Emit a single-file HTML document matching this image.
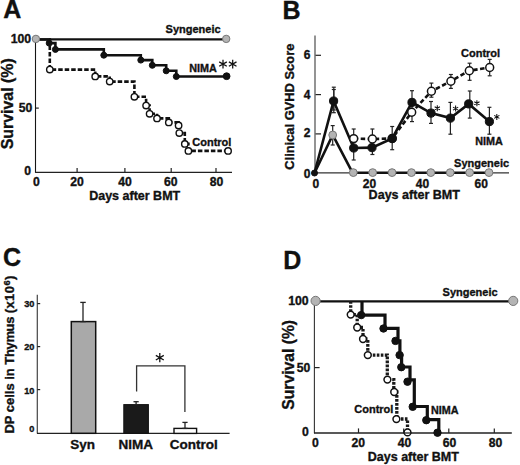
<!DOCTYPE html>
<html><head><meta charset="utf-8"><style>
html,body{margin:0;padding:0;background:#fff;width:520px;height:465px;overflow:hidden;}
svg{display:block;}
text{font-family:"Liberation Sans",sans-serif;font-weight:bold;fill:#111;stroke:#111;stroke-width:0.35px;}
</style></head><body>
<svg width="520" height="465" viewBox="0 0 520 465">
<rect width="520" height="465" fill="#fff"/>
<text x="3.3" y="17.6" font-size="25" text-anchor="start" >A</text>
<line x1="35.5" y1="36" x2="35.5" y2="172.8" stroke="#151515" stroke-width="1.1" />
<line x1="35.2" y1="172.4" x2="232" y2="172.4" stroke="#222" stroke-width="1.3" />
<line x1="77.1" y1="168" x2="77.1" y2="172" stroke="#222" stroke-width="1.2" />
<line x1="124.9" y1="168" x2="124.9" y2="172" stroke="#222" stroke-width="1.2" />
<line x1="171.2" y1="168" x2="171.2" y2="172" stroke="#222" stroke-width="1.2" />
<line x1="216.0" y1="168" x2="216.0" y2="172" stroke="#222" stroke-width="1.2" />
<line x1="35.7" y1="108.1" x2="38.8" y2="108.1" stroke="#222" stroke-width="1.2" />
<text x="31.2" y="43.4" font-size="12.3" text-anchor="end" >100</text>
<text x="32.2" y="111.9" font-size="12.2" text-anchor="end" >50</text>
<text x="31.1" y="175.4" font-size="12.2" text-anchor="end" >0</text>
<text x="36.3" y="185.7" font-size="12.2" text-anchor="middle" >0</text>
<text x="77.1" y="185.7" font-size="12.2" text-anchor="middle" >20</text>
<text x="125" y="185.7" font-size="12.2" text-anchor="middle" >40</text>
<text x="170.8" y="185.7" font-size="12.2" text-anchor="middle" >60</text>
<text x="216.6" y="185.7" font-size="12.2" text-anchor="middle" >80</text>
<text x="89.2" y="199.7" font-size="12.5" text-anchor="start" >Days after BMT</text>
<text transform="translate(12.6,103.8) rotate(-90)" x="0" y="0" font-size="15.9" text-anchor="middle">Survival (%)</text>
<line x1="36" y1="39.3" x2="226.2" y2="39.3" stroke="#111" stroke-width="2.2" />
<path d="M49.3,39.5H49.8V69.6H95.2V76.4H109.7V81.6H134.4V96.8H146.1V105.6H149.6V113.8H157V118.4H168.8V122.4H178.6V125.4H179.3V133.1H184.8V143.9H188.4V150.9H228.1V150.9" fill="none" stroke="#111" stroke-width="2.6" stroke-dasharray="4.5 2"/>
<path d="M36,39.5H49.2V43.1H55.4V49.4H103.8V55.2H140.8V60.1H152.3V65.3H166.2V70.8H176.3V76.5H226.6V76.5" fill="none" stroke="#111" stroke-width="2.6"/>
<circle cx="49.2" cy="43.1" r="3.0" fill="#111" stroke="#111" stroke-width="1"/>
<circle cx="55.4" cy="49.4" r="3.0" fill="#111" stroke="#111" stroke-width="1"/>
<circle cx="103.8" cy="55.2" r="3.0" fill="#111" stroke="#111" stroke-width="1"/>
<circle cx="140.8" cy="60.1" r="3.0" fill="#111" stroke="#111" stroke-width="1"/>
<circle cx="152.3" cy="65.3" r="3.0" fill="#111" stroke="#111" stroke-width="1"/>
<circle cx="166.2" cy="70.8" r="3.0" fill="#111" stroke="#111" stroke-width="1"/>
<circle cx="176.3" cy="76.5" r="3.0" fill="#111" stroke="#111" stroke-width="1"/>
<circle cx="226.6" cy="76.2" r="3.4" fill="#111" stroke="#111" stroke-width="1"/>
<circle cx="49.8" cy="69.6" r="3.2" fill="#fff" stroke="#111" stroke-width="1.4"/>
<circle cx="95.2" cy="76.4" r="3.2" fill="#fff" stroke="#111" stroke-width="1.4"/>
<circle cx="109.7" cy="81.6" r="3.2" fill="#fff" stroke="#111" stroke-width="1.4"/>
<circle cx="134.4" cy="96.8" r="3.2" fill="#fff" stroke="#111" stroke-width="1.4"/>
<circle cx="146.1" cy="105.6" r="3.2" fill="#fff" stroke="#111" stroke-width="1.4"/>
<circle cx="149.6" cy="113.8" r="3.2" fill="#fff" stroke="#111" stroke-width="1.4"/>
<circle cx="157" cy="118.4" r="3.2" fill="#fff" stroke="#111" stroke-width="1.4"/>
<circle cx="168.8" cy="122.4" r="3.2" fill="#fff" stroke="#111" stroke-width="1.4"/>
<circle cx="178.6" cy="125.4" r="3.2" fill="#fff" stroke="#111" stroke-width="1.4"/>
<circle cx="179.3" cy="133.1" r="3.2" fill="#fff" stroke="#111" stroke-width="1.4"/>
<circle cx="184.8" cy="143.9" r="3.2" fill="#fff" stroke="#111" stroke-width="1.4"/>
<circle cx="188.4" cy="150.9" r="3.2" fill="#fff" stroke="#111" stroke-width="1.4"/>
<circle cx="228.1" cy="150.9" r="3.2" fill="#fff" stroke="#111" stroke-width="1.4"/>
<circle cx="35.9" cy="38.9" r="3.7" fill="#b4b4b4" stroke="#777" stroke-width="1"/>
<circle cx="226.2" cy="38.9" r="3.7" fill="#b4b4b4" stroke="#777" stroke-width="1"/>
<text x="165.6" y="33.1" font-size="11" text-anchor="start" >Syngeneic</text>
<text x="189.2" y="71.9" font-size="10.8" text-anchor="start" >NIMA</text>
<path d="M223.00,59.70L223.00,68.50M219.19,61.90L226.81,66.30M226.81,61.90L219.19,66.30" stroke="#111" stroke-width="1.25" fill="none"/>
<path d="M232.70,59.70L232.70,68.50M228.89,61.90L236.51,66.30M236.51,61.90L228.89,66.30" stroke="#111" stroke-width="1.25" fill="none"/>
<text x="192.3" y="145.5" font-size="11" text-anchor="start" >Control</text>
<text x="282.6" y="19.4" font-size="25" text-anchor="start" >B</text>
<line x1="315" y1="35.6" x2="315" y2="173.2" stroke="#666" stroke-width="1.4" />
<line x1="315" y1="172.9" x2="509" y2="172.9" stroke="#333" stroke-width="1.1" />
<line x1="315.5" y1="133.89999999999998" x2="321" y2="133.89999999999998" stroke="#222" stroke-width="1.2" />
<line x1="315.5" y1="94.6" x2="321" y2="94.6" stroke="#222" stroke-width="1.2" />
<line x1="315.5" y1="55.3" x2="321" y2="55.3" stroke="#222" stroke-width="1.2" />
<text x="310.4" y="58.6" font-size="12" text-anchor="end" >6</text>
<text x="310.4" y="98.7" font-size="12" text-anchor="end" >4</text>
<text x="310.4" y="136.6" font-size="12" text-anchor="end" >2</text>
<text x="310.4" y="177.6" font-size="12" text-anchor="end" >0</text>
<text x="315.8" y="187.8" font-size="12" text-anchor="middle" >0</text>
<text x="369.5" y="187.8" font-size="12" text-anchor="middle" >20</text>
<text x="422.4" y="187.8" font-size="12" text-anchor="middle" >40</text>
<text x="481.2" y="187.8" font-size="12" text-anchor="middle" >60</text>
<text x="368.6" y="198.9" font-size="12.55" text-anchor="start" >Days after BMT</text>
<text transform="translate(293.6,106.7) rotate(-90)" x="0" y="0" font-size="12.9" text-anchor="middle">Clinical GVHD Score</text>
<line x1="332.7" y1="125.6" x2="332.7" y2="145.0" stroke="#222" stroke-width="1.2" />
<line x1="330.7" y1="125.6" x2="334.7" y2="125.6" stroke="#222" stroke-width="1.2" />
<line x1="330.7" y1="145.0" x2="334.7" y2="145.0" stroke="#222" stroke-width="1.2" />
<polyline points="314.5,173 332.7,135 352.5,172.7" fill="none" stroke="#111" stroke-width="2.6"/>
<line x1="352.5" y1="172.7" x2="488" y2="172.7" stroke="#111" stroke-width="2.6" />
<line x1="333.8" y1="87.2" x2="333.8" y2="112.7" stroke="#222" stroke-width="1.2" />
<line x1="331.8" y1="87.2" x2="335.8" y2="87.2" stroke="#222" stroke-width="1.2" />
<line x1="331.8" y1="112.7" x2="335.8" y2="112.7" stroke="#222" stroke-width="1.2" />
<line x1="333.8" y1="89.5" x2="333.8" y2="110" stroke="#222" stroke-width="1.2" />
<line x1="331.8" y1="89.5" x2="335.8" y2="89.5" stroke="#222" stroke-width="1.2" />
<line x1="331.8" y1="110" x2="335.8" y2="110" stroke="#222" stroke-width="1.2" />
<line x1="353.7" y1="129.0" x2="353.7" y2="160" stroke="#222" stroke-width="1.2" />
<line x1="351.7" y1="129.0" x2="355.7" y2="129.0" stroke="#222" stroke-width="1.2" />
<line x1="351.7" y1="160" x2="355.7" y2="160" stroke="#222" stroke-width="1.2" />
<line x1="372.4" y1="129.0" x2="372.4" y2="154.5" stroke="#222" stroke-width="1.2" />
<line x1="370.4" y1="129.0" x2="374.4" y2="129.0" stroke="#222" stroke-width="1.2" />
<line x1="370.4" y1="154.5" x2="374.4" y2="154.5" stroke="#222" stroke-width="1.2" />
<line x1="392.2" y1="126.5" x2="392.2" y2="149.7" stroke="#222" stroke-width="1.2" />
<line x1="390.2" y1="126.5" x2="394.2" y2="126.5" stroke="#222" stroke-width="1.2" />
<line x1="390.2" y1="149.7" x2="394.2" y2="149.7" stroke="#222" stroke-width="1.2" />
<line x1="412.0" y1="90.7" x2="412.0" y2="121.6" stroke="#222" stroke-width="1.2" />
<line x1="410.0" y1="90.7" x2="414.0" y2="90.7" stroke="#222" stroke-width="1.2" />
<line x1="410.0" y1="121.6" x2="414.0" y2="121.6" stroke="#222" stroke-width="1.2" />
<line x1="431.4" y1="83.1" x2="431.4" y2="97.2" stroke="#222" stroke-width="1.2" />
<line x1="429.4" y1="83.1" x2="433.4" y2="83.1" stroke="#222" stroke-width="1.2" />
<line x1="429.4" y1="97.2" x2="433.4" y2="97.2" stroke="#222" stroke-width="1.2" />
<line x1="431.0" y1="101.5" x2="431.0" y2="123.4" stroke="#222" stroke-width="1.2" />
<line x1="429.0" y1="101.5" x2="433.0" y2="101.5" stroke="#222" stroke-width="1.2" />
<line x1="429.0" y1="123.4" x2="433.0" y2="123.4" stroke="#222" stroke-width="1.2" />
<line x1="450.9" y1="74.5" x2="450.9" y2="88.4" stroke="#222" stroke-width="1.2" />
<line x1="448.9" y1="74.5" x2="452.9" y2="74.5" stroke="#222" stroke-width="1.2" />
<line x1="448.9" y1="88.4" x2="452.9" y2="88.4" stroke="#222" stroke-width="1.2" />
<line x1="450.4" y1="102.4" x2="450.4" y2="134.2" stroke="#222" stroke-width="1.2" />
<line x1="448.4" y1="102.4" x2="452.4" y2="102.4" stroke="#222" stroke-width="1.2" />
<line x1="448.4" y1="134.2" x2="452.4" y2="134.2" stroke="#222" stroke-width="1.2" />
<line x1="469.6" y1="63.2" x2="469.6" y2="80.3" stroke="#222" stroke-width="1.2" />
<line x1="467.6" y1="63.2" x2="471.6" y2="63.2" stroke="#222" stroke-width="1.2" />
<line x1="467.6" y1="80.3" x2="471.6" y2="80.3" stroke="#222" stroke-width="1.2" />
<line x1="469.8" y1="91.0" x2="469.8" y2="118.1" stroke="#222" stroke-width="1.2" />
<line x1="467.8" y1="91.0" x2="471.8" y2="91.0" stroke="#222" stroke-width="1.2" />
<line x1="467.8" y1="118.1" x2="471.8" y2="118.1" stroke="#222" stroke-width="1.2" />
<line x1="489.7" y1="59.4" x2="489.7" y2="75.8" stroke="#222" stroke-width="1.2" />
<line x1="487.7" y1="59.4" x2="491.7" y2="59.4" stroke="#222" stroke-width="1.2" />
<line x1="487.7" y1="75.8" x2="491.7" y2="75.8" stroke="#222" stroke-width="1.2" />
<line x1="489.4" y1="107.3" x2="489.4" y2="134.2" stroke="#222" stroke-width="1.2" />
<line x1="487.4" y1="107.3" x2="491.4" y2="107.3" stroke="#222" stroke-width="1.2" />
<line x1="487.4" y1="134.2" x2="491.4" y2="134.2" stroke="#222" stroke-width="1.2" />
<polyline points="353.7,138.6 372.4,139 392.2,138.5 411.7,112.3 431.4,91.3 450.9,81.2 469.3,70.7 489.7,67.5" fill="none" stroke="#111" stroke-width="2.6" stroke-dasharray="4.5 2.5"/>
<polyline points="314.5,173 333.6,101 353.7,148 372,147.6 392.2,138.5 412,102.4 431,113.1 450.4,118.1 468.7,103.9 489.4,121.6" fill="none" stroke="#111" stroke-width="2.6"/>
<circle cx="353.7" cy="138.6" r="3.95" fill="#fff" stroke="#111" stroke-width="1.5"/>
<circle cx="372.4" cy="139" r="3.95" fill="#fff" stroke="#111" stroke-width="1.5"/>
<circle cx="392.2" cy="138.5" r="3.95" fill="#fff" stroke="#111" stroke-width="1.5"/>
<circle cx="411.7" cy="112.3" r="3.95" fill="#fff" stroke="#111" stroke-width="1.5"/>
<circle cx="431.4" cy="91.3" r="3.95" fill="#fff" stroke="#111" stroke-width="1.5"/>
<circle cx="450.9" cy="81.2" r="3.95" fill="#fff" stroke="#111" stroke-width="1.5"/>
<circle cx="469.3" cy="70.7" r="3.95" fill="#fff" stroke="#111" stroke-width="1.5"/>
<circle cx="489.7" cy="67.5" r="3.95" fill="#fff" stroke="#111" stroke-width="1.5"/>
<circle cx="333.6" cy="101" r="4.1" fill="#111" stroke="#111" stroke-width="1"/>
<circle cx="353.7" cy="148" r="4.1" fill="#111" stroke="#111" stroke-width="1"/>
<circle cx="372" cy="147.6" r="4.1" fill="#111" stroke="#111" stroke-width="1"/>
<circle cx="392.2" cy="138.5" r="4.1" fill="#111" stroke="#111" stroke-width="1"/>
<circle cx="412" cy="102.4" r="4.1" fill="#111" stroke="#111" stroke-width="1"/>
<circle cx="431" cy="113.1" r="4.1" fill="#111" stroke="#111" stroke-width="1"/>
<circle cx="450.4" cy="118.1" r="4.1" fill="#111" stroke="#111" stroke-width="1"/>
<circle cx="468.7" cy="103.9" r="4.1" fill="#111" stroke="#111" stroke-width="1"/>
<circle cx="489.4" cy="121.6" r="4.1" fill="#111" stroke="#111" stroke-width="1"/>
<circle cx="314.5" cy="173" r="3" fill="#111" stroke="#111" stroke-width="1"/>
<circle cx="332.7" cy="135" r="3.9" fill="#b4b4b4" stroke="#777" stroke-width="1"/>
<circle cx="353.28" cy="172.6" r="3.9" fill="#b4b4b4" stroke="#777" stroke-width="1"/>
<circle cx="372.67" cy="172.6" r="3.9" fill="#b4b4b4" stroke="#777" stroke-width="1"/>
<circle cx="392.06" cy="172.6" r="3.9" fill="#b4b4b4" stroke="#777" stroke-width="1"/>
<circle cx="411.45" cy="172.6" r="3.9" fill="#b4b4b4" stroke="#777" stroke-width="1"/>
<circle cx="430.84000000000003" cy="172.6" r="3.9" fill="#b4b4b4" stroke="#777" stroke-width="1"/>
<circle cx="450.23" cy="172.6" r="3.9" fill="#b4b4b4" stroke="#777" stroke-width="1"/>
<circle cx="469.62" cy="172.6" r="3.9" fill="#b4b4b4" stroke="#777" stroke-width="1"/>
<circle cx="489.01" cy="172.6" r="3.9" fill="#b4b4b4" stroke="#777" stroke-width="1"/>
<path d="M437.30,105.20L437.30,111.20M434.70,106.70L439.90,109.70M439.90,106.70L434.70,109.70" stroke="#111" stroke-width="1.05" fill="none"/>
<path d="M455.60,105.60L455.60,111.60M453.00,107.10L458.20,110.10M458.20,107.10L453.00,110.10" stroke="#111" stroke-width="1.05" fill="none"/>
<path d="M476.90,100.20L476.90,106.20M474.30,101.70L479.50,104.70M479.50,101.70L474.30,104.70" stroke="#111" stroke-width="1.05" fill="none"/>
<path d="M496.80,113.90L496.80,119.90M494.20,115.40L499.40,118.40M499.40,115.40L494.20,118.40" stroke="#111" stroke-width="1.05" fill="none"/>
<text x="461.0" y="57.4" font-size="11" text-anchor="start" >Control</text>
<text x="475.3" y="144.5" font-size="10.8" text-anchor="start" >NIMA</text>
<text x="454.1" y="167.0" font-size="11" text-anchor="start" >Syngeneic</text>
<text x="3.0" y="266.0" font-size="25" text-anchor="start" >C</text>
<line x1="37.3" y1="294.8" x2="37.3" y2="433.5" stroke="#444" stroke-width="1.2" />
<line x1="37" y1="433.3" x2="229.6" y2="433.3" stroke="#222" stroke-width="1.3" />
<line x1="37.3" y1="389.6" x2="40.2" y2="389.6" stroke="#222" stroke-width="1.2" />
<line x1="37.3" y1="346.6" x2="40.2" y2="346.6" stroke="#222" stroke-width="1.2" />
<line x1="37.3" y1="303.6" x2="40.2" y2="303.6" stroke="#222" stroke-width="1.2" />
<text x="34.4" y="307.2" font-size="9.2" text-anchor="end" >30</text>
<text x="34.4" y="350.3" font-size="9.2" text-anchor="end" >20</text>
<text x="34.4" y="394.1" font-size="9.2" text-anchor="end" >10</text>
<text x="34.4" y="432.2" font-size="9.2" text-anchor="end" >0</text>
<rect x="71.3" y="321.6" width="24.4" height="111.7" fill="#a9a9a9" stroke="#111" stroke-width="1.5"/>
<rect x="123.8" y="404.6" width="24.6" height="28.7" fill="#1a1a1a" stroke="#111" stroke-width="1"/>
<rect x="174" y="428.4" width="22.6" height="5" fill="#fff" stroke="#111" stroke-width="1.4"/>
<line x1="83.0" y1="302.4" x2="83.0" y2="321.6" stroke="#222" stroke-width="1.3" />
<line x1="80.25" y1="302.4" x2="85.75" y2="302.4" stroke="#222" stroke-width="1.3" />
<line x1="80.25" y1="321.6" x2="85.75" y2="321.6" stroke="#222" stroke-width="1.3" />
<line x1="136.1" y1="401.7" x2="136.1" y2="404.6" stroke="#222" stroke-width="1.3" />
<line x1="133.5" y1="401.7" x2="138.7" y2="401.7" stroke="#222" stroke-width="1.3" />
<line x1="133.5" y1="404.6" x2="138.7" y2="404.6" stroke="#222" stroke-width="1.3" />
<line x1="185.0" y1="422.4" x2="185.0" y2="428.4" stroke="#222" stroke-width="1.3" />
<line x1="182.4" y1="422.4" x2="187.6" y2="422.4" stroke="#222" stroke-width="1.3" />
<line x1="182.4" y1="428.4" x2="187.6" y2="428.4" stroke="#222" stroke-width="1.3" />
<path d="M136.6,391.6V365.8H184.9V412" fill="none" stroke="#333" stroke-width="1.3"/>
<path d="M159.80,353.10L159.80,362.30M155.82,355.40L163.78,360.00M163.78,355.40L155.82,360.00" stroke="#111" stroke-width="1.3" fill="none"/>
<text x="70.3" y="449.4" font-size="13.5" text-anchor="start" >Syn</text>
<text x="118.6" y="449.4" font-size="13.5" text-anchor="start" >NIMA</text>
<text x="169.8" y="449.4" font-size="13.5" text-anchor="start" >Control</text>
<text transform="translate(14.4,433.5) rotate(-90)" font-size="12.95">DP cells in <tspan letter-spacing="-0.3">Thymus</tspan> <tspan letter-spacing="0.45">(x10</tspan><tspan font-size="9.4" dy="-4.6" letter-spacing="0.4">6</tspan><tspan dy="4.6">)</tspan></text>
<text x="283.3" y="268.5" font-size="25" text-anchor="start" >D</text>
<line x1="314.4" y1="300" x2="314.4" y2="433.2" stroke="#333" stroke-width="1.1" />
<line x1="314" y1="433.0" x2="511.8" y2="433.0" stroke="#222" stroke-width="1.3" />
<line x1="358.5" y1="428.4" x2="358.5" y2="433" stroke="#222" stroke-width="1.2" />
<line x1="403.7" y1="428.4" x2="403.7" y2="433" stroke="#222" stroke-width="1.2" />
<line x1="448.8" y1="428.4" x2="448.8" y2="433" stroke="#222" stroke-width="1.2" />
<line x1="494.3" y1="428.4" x2="494.3" y2="433" stroke="#222" stroke-width="1.2" />
<line x1="314.4" y1="367.6" x2="319.6" y2="367.6" stroke="#222" stroke-width="1.2" />
<text x="308.7" y="305.0" font-size="12.3" text-anchor="end" >100</text>
<text x="310.3" y="371.7" font-size="12.2" text-anchor="end" >50</text>
<text x="308.9" y="435.7" font-size="12.2" text-anchor="end" >0</text>
<text x="315.4" y="447.3" font-size="12.2" text-anchor="middle" >0</text>
<text x="358.3" y="447.3" font-size="12.2" text-anchor="middle" >20</text>
<text x="404.5" y="447.3" font-size="12.2" text-anchor="middle" >40</text>
<text x="449.5" y="447.3" font-size="12.2" text-anchor="middle" >60</text>
<text x="495.5" y="447.3" font-size="12.2" text-anchor="middle" >80</text>
<text x="367.8" y="461.3" font-size="12.5" text-anchor="start" >Days after BMT</text>
<text transform="translate(293.6,364.8) rotate(-90)" x="0" y="0" font-size="15.7" text-anchor="middle">Survival (%)</text>
<line x1="315" y1="301.4" x2="513" y2="301.4" stroke="#111" stroke-width="2.4" />
<path d="M362,301.2V315.1H385V328.4H398V340.9H399.9V355.1H401.6V367H410V379.8H414.3V406.5H427.3V419.7H438.8V432.7" fill="none" stroke="#111" stroke-width="3.2"/>
<circle cx="361.2" cy="315.1" r="3.7" fill="#111" stroke="#111" stroke-width="1"/>
<circle cx="383.5" cy="328.5" r="3.7" fill="#111" stroke="#111" stroke-width="1"/>
<circle cx="395.5" cy="340.9" r="3.7" fill="#111" stroke="#111" stroke-width="1"/>
<circle cx="399.6" cy="355.1" r="3.7" fill="#111" stroke="#111" stroke-width="1"/>
<circle cx="401.3" cy="367.2" r="3.7" fill="#111" stroke="#111" stroke-width="1"/>
<circle cx="407.5" cy="381.7" r="3.7" fill="#111" stroke="#111" stroke-width="1"/>
<circle cx="412.7" cy="406.8" r="3.7" fill="#111" stroke="#111" stroke-width="1"/>
<circle cx="426.3" cy="420.2" r="3.7" fill="#111" stroke="#111" stroke-width="1"/>
<circle cx="437.5" cy="432.7" r="3.7" fill="#111" stroke="#111" stroke-width="1"/>
<path d="M350.7,301.2V314.6H357.2V327.5H363V339H367.8V355.1H387.3V379.6H393.8V392H396.8V419H407.5V432.7" fill="none" stroke="#1a1a1a" stroke-width="3.3" stroke-dasharray="2.6 1.4"/>
<circle cx="350.7" cy="314.6" r="3.4" fill="#fff" stroke="#111" stroke-width="1.5"/>
<circle cx="357.2" cy="327.5" r="3.4" fill="#fff" stroke="#111" stroke-width="1.5"/>
<circle cx="363" cy="339" r="3.4" fill="#fff" stroke="#111" stroke-width="1.5"/>
<circle cx="367.8" cy="355.1" r="3.4" fill="#fff" stroke="#111" stroke-width="1.5"/>
<circle cx="387.4" cy="379.6" r="3.4" fill="#fff" stroke="#111" stroke-width="1.5"/>
<circle cx="394.2" cy="392" r="3.4" fill="#fff" stroke="#111" stroke-width="1.5"/>
<circle cx="396.4" cy="419.1" r="3.4" fill="#fff" stroke="#111" stroke-width="1.5"/>
<circle cx="407.5" cy="432.4" r="3.4" fill="#fff" stroke="#111" stroke-width="1.5"/>
<line x1="403.5" y1="433.0" x2="411.5" y2="433.0" stroke="#222" stroke-width="1.3" />
<circle cx="315.6" cy="300.9" r="4.6" fill="#b4b4b4" stroke="#777" stroke-width="1"/>
<circle cx="513.2" cy="300.9" r="4.6" fill="#b4b4b4" stroke="#777" stroke-width="1"/>
<text x="442.6" y="295.8" font-size="11" text-anchor="start" >Syngeneic</text>
<text x="354.3" y="413.3" font-size="11" text-anchor="start" >Control</text>
<text x="430.9" y="414.3" font-size="10.8" text-anchor="start" >NIMA</text>
</svg>
</body></html>
